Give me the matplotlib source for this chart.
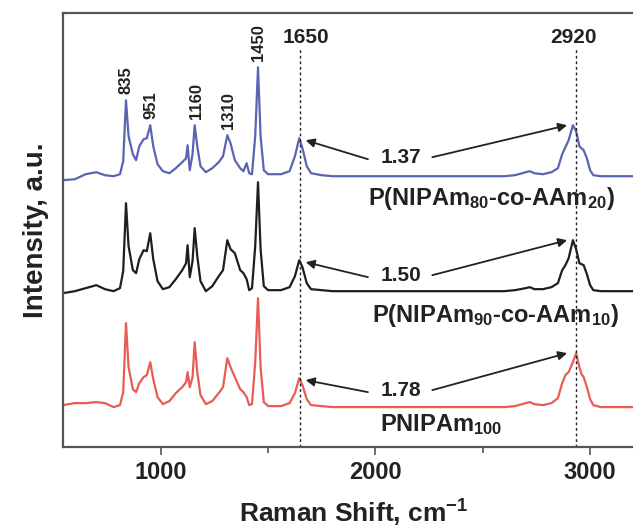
import matplotlib
matplotlib.use("Agg")
import matplotlib.pyplot as plt

# Raman spectra (height above each baseline, a.u.)
wavenumber = [545, 600, 650, 700, 740, 780, 810, 825, 838, 850, 870, 885, 900, 920, 935, 951,
              965, 985, 1010, 1040, 1070, 1100, 1118, 1125, 1135, 1148, 1158, 1170, 1185, 1210,
              1240, 1270, 1290, 1310, 1325, 1345, 1370, 1385, 1400, 1412, 1425, 1440, 1453, 1465,
              1480, 1500, 1560, 1600, 1625, 1645, 1660, 1680, 1700, 1750, 1800, 2600, 2650, 2700,
              2720, 2740, 2780, 2820, 2850, 2870, 2885, 2900, 2920, 2935, 2950, 2960, 2970, 2985,
              3000, 3015, 3050, 3250]

int_80_20 = [-4, -3, 2, 4, 1, 0, 2, 15, 76, 40, 22, 16, 30, 37, 38, 51,
             30, 12, 5, 3, 8, 14, 18, 31, 6, 22, 51, 30, 10, 4,
             8, 14, 20, 41, 33, 16, 8, 5, 13, 3, 2, 40, 109, 40,
             6, 2, 2, 5, 20, 38, 28, 10, 3, 1, 0, 0, 1, 4,
             5, 3, 2, 4, 8, 22, 29, 36, 51, 45, 30, 28, 26, 18,
             6, 1, 0, 0]

int_90_10 = [-2, 0, 3, 6, 2, 0, 3, 20, 88, 45, 21, 18, 32, 41, 40, 58,
             32, 10, 2, 4, 12, 21, 28, 46, 14, 30, 63, 35, 10, 0,
             5, 15, 21, 51, 42, 38, 21, 18, 12, 1, 3, 45, 109, 42,
             5, 1, 1, 4, 15, 31, 24, 8, 2, 1, 0, 0, 1, 3,
             4, 2, 2, 4, 8, 21, 26, 33, 51, 42, 28, 27, 26, 17,
             6, 1, 0, 0]

int_100 = [2, 4, 4, 5, 4, 0, 2, 15, 84, 40, 18, 15, 24, 30, 32, 45,
           28, 10, 3, 6, 14, 20, 25, 35, 20, 30, 65, 35, 12, 3,
           6, 14, 20, 49, 40, 30, 18, 15, 10, 2, 3, 45, 109, 40,
           5, 1, 1, 4, 14, 29, 22, 8, 2, 1, 0, 0, 1, 4,
           5, 3, 2, 4, 9, 24, 32, 35, 45, 54, 40, 33, 30, 20,
           8, 2, 0, 0]

series_names = ["P(NIPAm$_{80}$-co-AAm$_{20}$)", "P(NIPAm$_{90}$-co-AAm$_{10}$)", "PNIPAm$_{100}$"]
ratios = ["1.37", "1.50", "1.78"]
peak_labels = [835, 951, 1160, 1310, 1450]
band_lines = [1650, 2935]
band_names = ["1650", "2920"]

colors = ["#5a64b0", "#1e1e1e", "#e85c55"]
offsets = [271, 156, 40]
label_pos = [(1967, 242), (1985, 125), (2022, 16)]
ratio_y = [290, 172, 57]

plt.rcParams['font.family'] = ['Liberation Sans', 'DejaVu Sans']
plt.rcParams['font.weight'] = 'bold'
plt.rcParams['mathtext.fontset'] = 'custom'
plt.rcParams['mathtext.rm'] = 'Liberation Sans:bold'
plt.rcParams['mathtext.it'] = 'Liberation Sans:bold'
plt.rcParams['mathtext.bf'] = 'Liberation Sans:bold'
plt.rcParams['mathtext.default'] = 'rm'

fig = plt.figure(figsize=(6.33, 5.31), dpi=100)
ax = fig.add_axes([0.099, 0.158, 0.918, 0.817])

spectra = [int_80_20, int_90_10, int_100]
for ys, off, c, name, lp, r, ry in zip(spectra, offsets, colors, series_names, label_pos, ratios, ratio_y):
    ax.plot(wavenumber, [v + off for v in ys], color=c, lw=1.6)
    ax.text(lp[0], lp[1], name, fontsize=17, ha='left', va='baseline', color='#222222')
    # ratio of the two bands, arrows to the peaks
    h1650 = ys[wavenumber.index(1645)] + off
    h2920 = max(ys[wavenumber.index(2885):wavenumber.index(2985)]) + off
    ax.text(2120, ry, r, fontsize=15, ha='center', va='center', color='#222222')
    arrow = dict(arrowstyle='-|>', color='#222222', lw=1.3, mutation_scale=13, shrinkA=0, shrinkB=0)
    ax.annotate("", xy=(1675, h1650 - 2), xytext=(1965, ry - 2), arrowprops=arrow)
    ax.annotate("", xy=(2893, h2920), xytext=(2265, ry), arrowprops=arrow)

# rotated peak labels above the top spectrum
for p in peak_labels:
    i = min(range(len(wavenumber)), key=lambda k: abs(wavenumber[k] - p))
    top = max(int_80_20[max(i - 1, 0):i + 2]) + offsets[0]
    ax.text(p + 5, top + 6, str(p), rotation=90, fontsize=12, ha='center', va='bottom', color='#222222')

for x, name, tx in zip(band_lines, band_names, [1677, 2921]):
    ax.plot([x, x], [0, 400], color='#222222', lw=1, ls=(0, (2, 2)))
    ax.text(tx, 410, name, fontsize=15, ha='center', va='center', color='#222222')

ax.set_xlim(543, 3250)
ax.set_ylim(0, 434)
ax.set_yticks([])
ax.set_xticks([1000, 2000, 3000])
ax.set_xticks([1500, 2500], minor=True)
ax.tick_params(axis='x', which='major', direction='out', length=6, width=1.2, color='#555555',
               labelsize=17, pad=4, labelcolor='#222222')
ax.tick_params(axis='x', which='minor', direction='out', length=4, width=1.2, color='#555555')
for s in ax.spines.values():
    s.set_color('#555555')
    s.set_linewidth(1.6)

ax.set_xlabel("Raman Shift, cm$^{-1}$", fontsize=19, fontweight='bold', color='#222222', labelpad=10)
ax.set_ylabel("Intensity, a.u.", fontsize=20, fontweight='bold', color='#222222', labelpad=10)

fig.savefig("out.png", dpi=100)
